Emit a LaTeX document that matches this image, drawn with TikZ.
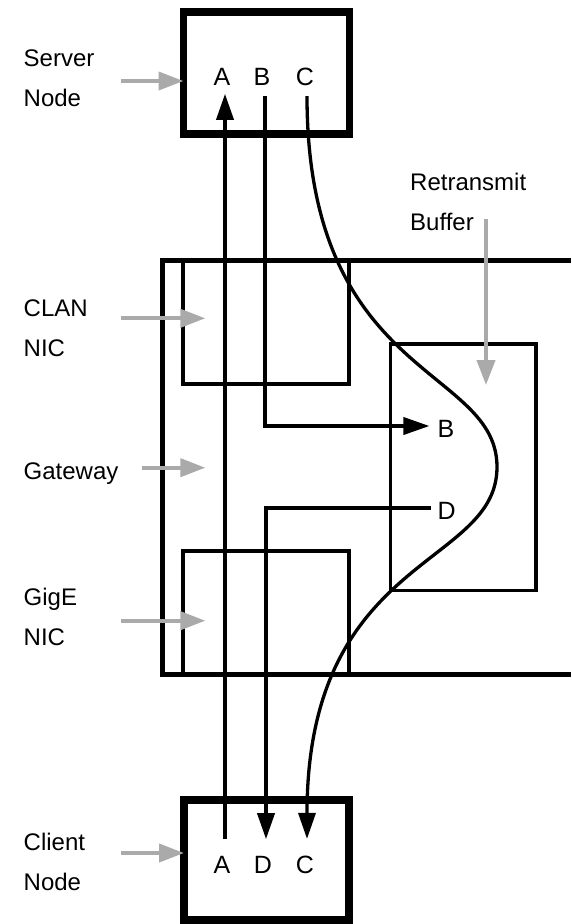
\documentclass[tikz,border=0pt]{standalone}
\usepackage{fontspec}
\setmainfont{Liberation Sans}
\usepackage{tikz}
\usetikzlibrary{arrows.meta, positioning, calc}
\definecolor{mydark}{RGB}{0,0,0}
\definecolor{mygray}{RGB}{170,170,170}
\tikzset{
  hostbox/.style={rectangle, draw=mydark, line width=7.5pt,
    inner sep=0pt, outer sep=0pt},
  nicbox/.style={rectangle, draw=mydark, line width=4pt,
    inner sep=0pt, outer sep=0pt},
  bufbox/.style={rectangle, draw=mydark, line width=3.3pt,
    inner sep=0pt, outer sep=0pt},
  caption/.style={font=\fontsize{24}{40}\selectfont, align=left,
    anchor=north west, inner sep=0pt},
  letter/.style={font=\fontsize{25}{29}\selectfont, inner sep=0pt},
  arrow/.style={-{Triangle[length=26pt, width=17pt]}, line width=3.7pt, color=mydark},
  line/.style={line width=4.7pt, color=mydark},
  grayarrow/.style={-{Triangle[length=25pt, width=18pt]}, line width=4pt, color=mygray}
}

\begin{document}
\begin{tikzpicture}[x=1pt, y=-1pt]
  \useasboundingbox (0,0) rectangle (571,924);

  % Gateway
  \draw[line] (571,260.7) -| (162.7,674.3) -- (571,674.3);
  \node[nicbox, minimum width=165.7, minimum height=123.3] (clan) at (266.2,322.4) {};
  \node[nicbox, minimum width=165.7, minimum height=123.6] (gige) at (266.2,612.5) {};
  \node[bufbox, minimum width=145.3, minimum height=246.7] (buf) at (463.4,467.4) {};

  % Hosts
  \node[hostbox, minimum width=166, minimum height=122] (srv) at (266.5,73) {};
  \node[hostbox, minimum width=165, minimum height=120] (cli) at (266.5,860) {};

  \node[letter] (srvA) at (222,77) {A};
  \node[letter] (srvB) at (262,77) {B};
  \node[letter] (srvC) at (305,77) {C};
  \node[letter] (cliA) at (222,865) {A};
  \node[letter] (cliD) at (263,865) {D};
  \node[letter] (cliC) at (305,865) {C};
  \node[letter] (bufB) at (446,429) {B};
  \node[letter] (bufD) at (446.7,511) {D};

  % Captions
  \node[caption] (srvlbl) at (23.5,49.2) {Server\\Node};
  \node[caption] (clanlbl) at (23.5,299.2) {CLAN\\NIC};
  \node[caption] (gwlbl) at (23.5,462.5) {Gateway};
  \node[caption] (gigelbl) at (23.5,587.5) {GigE\\NIC};
  \node[caption] (clilbl) at (23.5,832.5) {Client\\Node};
  \node[caption] (buflbl) at (410,172.5) {Retransmit\\Buffer};

  % Paths
  \draw[arrow] ([shift={(3,-17)}]cliA.north) -- ([shift={(3,8)}]srvA.south);
  \draw[arrow] ([shift={(3,10)}]srvB.south) |- ([shift={(-8,-3)}]bufB.west);
  \draw[arrow] ([shift={(-6,-3)}]bufD.west) -| ([shift={(3,-17)}]cliD.north);
  \draw[arrow, line width=3.3pt] ([shift={(2,10)}]srvC.south)
    .. controls (307,380) and (497,366) .. (497,467)
    .. controls (497,568) and (307,554) .. ([shift={(2,-17)}]cliC.north);

  % Pointers
  \coordinate (srvtail) at (121,81);
  \coordinate (clantail) at (121,318.3);
  \coordinate (gwtail) at (142,467.7);
  \coordinate (gigetail) at (121,620.7);
  \coordinate (clitail) at (121,853);
  \coordinate (buftail) at (486,219);
  \draw[grayarrow] (srvtail) -- (srvtail -| srv.west);
  \draw[grayarrow] (clantail) -- ($(clantail -| clan.west)+(22,0)$);
  \draw[grayarrow] (gwtail) -- ($(gwtail -| clan.west)+(22,0)$);
  \draw[grayarrow] (gigetail) -- ($(gigetail -| gige.west)+(22,0)$);
  \draw[grayarrow] (clitail) -- (clitail -| cli.west);
  \draw[grayarrow] (buftail) -- ($(buftail |- buf.north)+(0,41)$);
\end{tikzpicture}
\end{document}
